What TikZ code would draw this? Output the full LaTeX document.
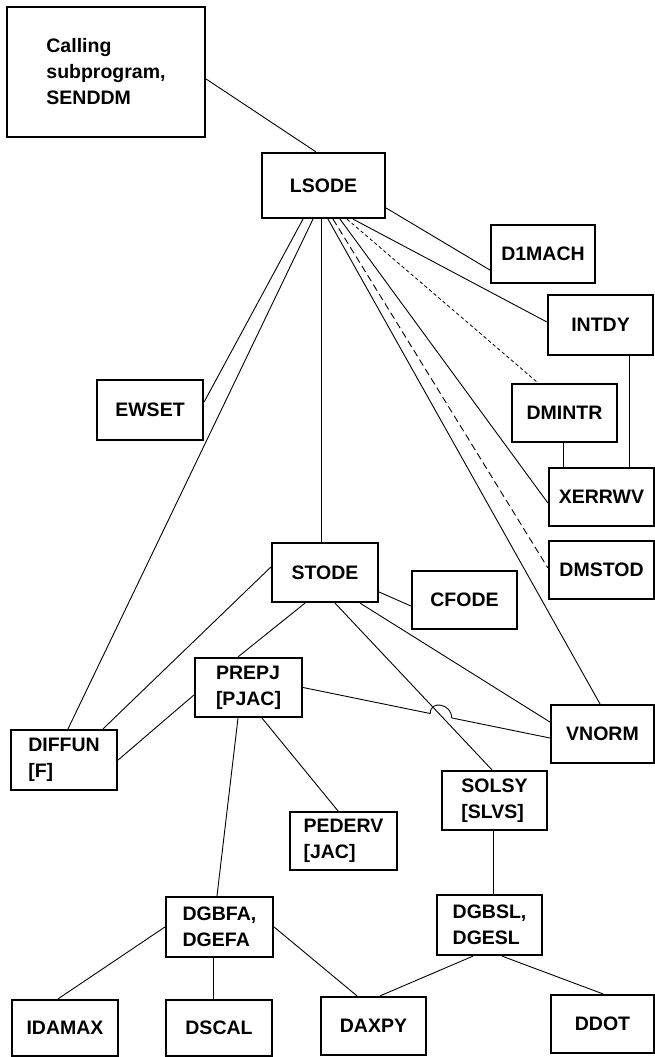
\documentclass[tikz,border=0pt]{standalone}
\usepackage{fontspec}
\setmainfont{Liberation Sans}
\usetikzlibrary{calc,intersections}
\tikzset{
  box/.style={draw, line width=2.2pt, inner sep=0pt, align=left,
    font=\fontsize{19.5}{26}\selectfont\bfseries},
  link/.style={line width=0.9pt},
  dotlink/.style={line width=0.8pt, dash pattern=on 3.5pt off 2.5pt},
  dashlink/.style={line width=0.9pt, dash pattern=on 7pt off 4pt},
}
\begin{document}
\begin{tikzpicture}[x=1pt,y=1pt]
\useasboundingbox (0,0) rectangle (655,-1057);
% boxes
\node[box, minimum width=198, minimum height=130] (call) at (106,-72) {Calling\\subprogram,\\SENDDM};
\node[box, minimum width=123, minimum height=65] (lsode) at (323.5,-185.5) {LSODE};
\node[box, minimum width=104, minimum height=58] (d1mach) at (543,-254) {D1MACH};
\node[box, minimum width=105, minimum height=60] (intdy) at (600.5,-325) {INTDY};
\node[box, minimum width=106, minimum height=60] (ewset) at (150,-410) {EWSET};
\node[box, minimum width=105, minimum height=58] (dmintr) at (564.5,-413) {DMINTR};
\node[box, minimum width=105, minimum height=58] (xerrwv) at (601.5,-497) {XERRWV};
\node[box, minimum width=105, minimum height=58] (dmstod) at (601.5,-570) {DMSTOD};
\node[box, minimum width=106, minimum height=59] (stode) at (325,-572.5) {STODE};
\node[box, minimum width=105, minimum height=58] (cfode) at (464.5,-600) {CFODE};
\node[box, minimum width=107, minimum height=59] (prepj) at (248.5,-687.5) {PREPJ\\{[PJAC]}};
\node[box, minimum width=103, minimum height=58] (vnorm) at (602.5,-734) {VNORM};
\node[box, minimum width=106, minimum height=60] (diffun) at (64,-760) {DIFFUN\\{[F]}};
\node[box, minimum width=105, minimum height=59] (solsy) at (494.5,-800.5) {SOLSY\\{[SLVS]}};
\node[box, minimum width=107, minimum height=58] (pederv) at (343.5,-841) {PEDERV\\{[JAC]}};
\node[box, minimum width=107, minimum height=60] (dgbfa) at (219.5,-927) {DGBFA,\\DGEFA};
\node[box, minimum width=105, minimum height=60] (dgbsl) at (489.5,-925) {DGBSL,\\DGESL};
\node[box, minimum width=106, minimum height=56] (idamax) at (65,-1028) {IDAMAX};
\node[box, minimum width=106, minimum height=56] (dscal) at (219,-1028) {DSCAL};
\node[box, minimum width=105, minimum height=58] (daxpy) at (373.5,-1026) {DAXPY};
\node[box, minimum width=103, minimum height=58] (ddot) at (602.5,-1024) {DDOT};
% connectors
\draw[link] ([yshift=-7pt]call.east) -- ([xshift=-7.5pt]lsode.north);
\draw[link] ([yshift=-22.5pt]lsode.east) -- ([yshift=-16pt]d1mach.west);
\draw[link] ([xshift=29.5pt]lsode.south) -- ([yshift=3pt]intdy.west);
\draw[dotlink] ([xshift=23.5pt]lsode.south) -- ([xshift=-26.5pt]dmintr.north);
\draw[link] ([xshift=16.5pt]lsode.south) -- ([yshift=-6pt]xerrwv.west);
\draw[dashlink] ([xshift=9.5pt]lsode.south) -- ([yshift=2pt]dmstod.west);
\draw[link] ([xshift=4.5pt]lsode.south) -- ([xshift=-2.5pt]vnorm.north);
\draw[link] ([xshift=-20.5pt]lsode.south) -- ([yshift=8pt]ewset.east);
\draw[link] ([xshift=-10.5pt]lsode.south) -- ([xshift=4pt]diffun.north);
\draw[link] ([xshift=-2.5pt]lsode.south) -- ([xshift=-4pt]stode.north);
\draw[link] ([yshift=5.5pt]stode.west) -- ([xshift=39pt]diffun.north);
\draw[link] ([xshift=-20pt]stode.south) -- ([xshift=-10.5pt]prepj.north);
\draw[link] ([yshift=-19.5pt]stode.east) -- ([yshift=-6pt]cfode.west);
\draw[link, name path=ss] ([xshift=10pt]stode.south) -- ([xshift=-2.5pt]solsy.north);
\draw[link] ([xshift=35pt]stode.south) -- ([yshift=12pt]vnorm.west);
\coordinate (pvA) at (prepj.east);
\coordinate (pvB) at ([yshift=-4pt]vnorm.west);
\path[name path=pv] (pvA) -- (pvB);
\path[name intersections={of=ss and pv, by=hop}];
\coordinate (hopA) at ($(hop)!11pt!(pvA)$);
\coordinate (hopB) at ($(hop)!11pt!(pvB)$);
\draw[link] (pvA) -- (hopA) .. controls ($(hopA)+(0,14)$) and ($(hopB)+(0,14)$) .. (hopB) -- (pvB);
\draw[link] ([yshift=-7.5pt]prepj.west) -- (diffun.east);
\draw[link] ([xshift=13.5pt]prepj.south) -- ([xshift=-5.5pt]pederv.north);
\draw[link] ([xshift=-10.5pt]prepj.south) -- ([xshift=-2.5pt]dgbfa.north);
\draw[link] ([xshift=-1.5pt]solsy.south) -- ([xshift=3.5pt]dgbsl.north);
\draw[link] (dgbfa.west) -- ([xshift=-7pt]idamax.north);
\draw[link] ([xshift=-6.5pt]dgbfa.south) -- ([xshift=-6pt]dscal.north);
\draw[link] (dgbfa.east) -- ([xshift=-16.5pt]daxpy.north);
\draw[link] ([xshift=-16.5pt]dgbsl.south) -- ([xshift=6.5pt]daxpy.north);
\draw[link] ([xshift=12.5pt]dgbsl.south) -- ([xshift=0.5pt]ddot.north);
\draw[link] ([xshift=28.5pt]intdy.south) -- ([xshift=27.5pt]xerrwv.north);
\draw[link] ([xshift=-1.5pt]dmintr.south) -- ([xshift=-38.5pt]xerrwv.north);
\end{tikzpicture}
\end{document}
